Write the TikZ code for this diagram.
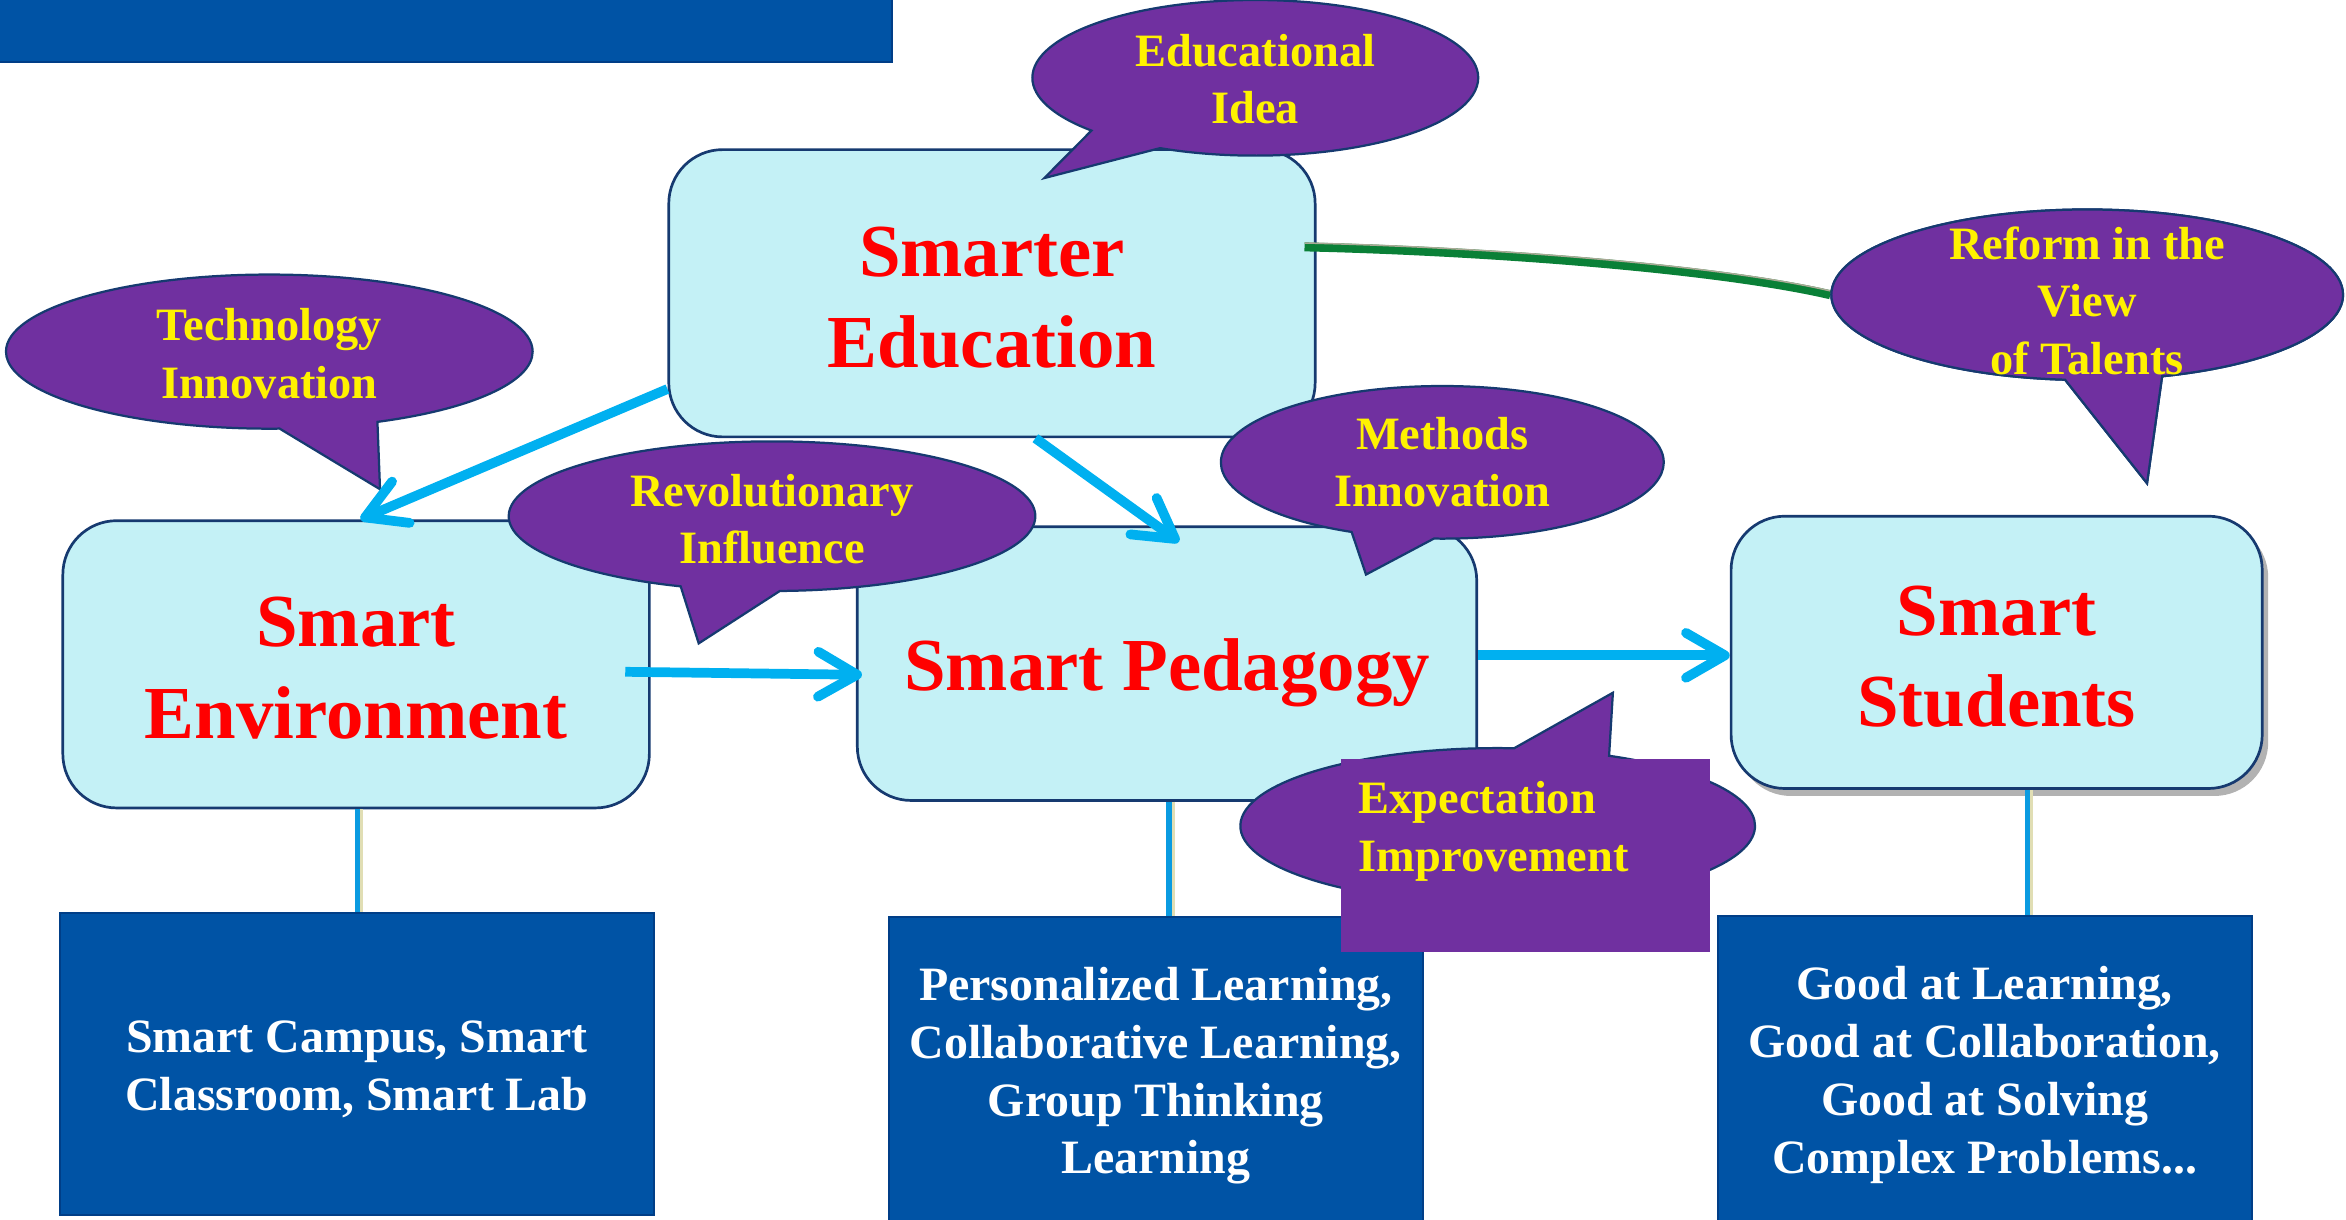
\documentclass[tikz,border=0pt]{standalone}
\usepackage{fontspec}
\setmainfont{Liberation Serif}
\usetikzlibrary{arrows.meta,shapes.callouts,shadows,calc}

\definecolor{cyanfill}{RGB}{196,241,246}
\definecolor{boxline}{RGB}{22,58,112}
\definecolor{purp}{RGB}{112,48,160}
\definecolor{subblue}{RGB}{0,83,165}
\definecolor{subline}{RGB}{0,62,135}
\definecolor{arrowcyan}{RGB}{0,176,240}
\definecolor{pipegreen}{RGB}{10,128,55}
\definecolor{pipegrey}{RGB}{170,170,150}
\definecolor{pipeblue}{RGB}{10,155,225}
\definecolor{pipebeige}{RGB}{225,222,180}

\begin{document}
\begin{tikzpicture}[x=1pt,y=-1pt,
  mainbox/.style={draw=boxline, line width=1.8pt, fill=cyanfill, rounded corners=36pt, inner sep=0pt},
  maintext/.style={align=center, text=red, font=\fontsize{50}{61}\selectfont\bfseries, inner sep=0pt},
  subbox/.style={draw=subline, line width=1.5pt, fill=subblue, inner sep=0pt},
  subtext/.style={align=center, text=white, font=\fontsize{32}{38.7}\selectfont\bfseries, inner sep=0pt},
  bubble/.style={ellipse callout, draw=boxline, line width=1.5pt, fill=purp, inner sep=0pt,
    callout pointer arc=22},
  bubtext/.style={align=center, text=yellow, font=\fontsize{31}{38.5}\selectfont\bfseries, inner sep=0pt},
  flow/.style={draw=arrowcyan, line width=6.5pt, -{Straight Barb[length=26pt,width=30pt,round]}},
  pipeA/.style={draw=pipeblue, line width=3.4pt},
  pipeB/.style={draw=pipebeige, line width=2pt},
]
\useasboundingbox (0,0) rectangle (1568,815);

% title box
\node[subbox, minimum width=603, minimum height=48, anchor=south east] (title) at (597,42) {};

% lower boxes
\node[subbox, minimum width=397, minimum height=202] (envsub) at (238.5,711) {};
\node[subtext] (envsubt) at (238.5,715) {Smart Campus, Smart\\Classroom, Smart Lab};
\node[subbox, minimum width=357, minimum height=204] (pedsub) at (772.5,715) {};
\node[subtext] (pedsubt) at (772.5,719) {Personalized Learning,\\Collaborative Learning,\\Group Thinking\\Learning};
\node[subbox, minimum width=357, minimum height=205] (stusub) at (1326.5,714.5) {};
\node[subtext] (stusubt) at (1326.5,718.5) {Good at Learning,\\Good at Collaboration,\\Good at Solving\\Complex Problems...};

% main boxes
\node[mainbox, minimum width=432, minimum height=192] (se) at (663,196) {};
\node[maintext] (set) at (663,199) {Smarter\\Education};
\node[mainbox, minimum width=392, minimum height=192] (env) at (238,444) {};
\node[maintext] (envt) at (238,446.5) {Smart\\Environment};
\node[mainbox, minimum width=414, minimum height=183] (ped) at (780,443.5) {};
\node[maintext] (pedt) at (780,450) {Smart Pedagogy};
\node[mainbox, minimum width=355, minimum height=182,
  drop shadow={shadow xshift=4pt, shadow yshift=-5pt, fill=black, opacity=0.3}] (stu) at (1334.5,436) {};
\node[maintext] (stut) at (1334.5,439) {Smart\\Students};

\draw[pipeA] (env.south -| 238.8,0) -- (envsub.north -| 238.8,0);
\draw[pipeB] (env.south -| 241.5,0) -- (envsub.north -| 241.5,0);
\draw[pipeA] (ped.south -| 781.3,0) -- (pedsub.north -| 781.3,0);
\draw[pipeB] (ped.south -| 784,0) -- (pedsub.north -| 784,0);
\draw[pipeA] (stu.south -| 1355.3,0) -- (stusub.north -| 1355.3,0);
\draw[pipeB] (stu.south -| 1358,0) -- (stusub.north -| 1358,0);

% green link and the reform bubble
\path (1395,197) node[bubble, minimum width=342, minimum height=114, callout absolute pointer={(1435,323)}] (reform) {};
\draw[pipegreen, line width=6pt] ($(se.east |- 0,165)+(-8,0)$) .. controls (1000,168) and (1150,180) .. (reform.west);
\draw[pipegrey, line width=1pt, transform canvas={yshift=2.6pt}] ($(se.east |- 0,165)+(-8,0)$) .. controls (1000,168) and (1150,180) .. (reform.west);
\node[bubble, minimum width=342, minimum height=114, callout absolute pointer={(1435,323)}] (reformtop) at (reform.center) {};
\node[bubtext] (reformt) at (1395,201) {Reform in the\\View\\of Talents};

\node[bubble, minimum width=298, minimum height=104, callout absolute pointer={(698,119)}] (idea) at (839,52) {};
\node[bubtext] (ideat) at (839,53) {Educational\\Idea};

\node[bubble, minimum width=352, minimum height=103, callout absolute pointer={(254,327)}] (tech) at (180,235) {};
\node[bubtext] (techt) at (180,236.5) {Technology\\Innovation};

\node[bubble, minimum width=352, minimum height=100, callout absolute pointer={(467,430)}] (rev) at (516,345) {};
\node[bubtext] (revt) at (516,347) {Revolutionary\\Influence};

\node[bubble, minimum width=296, minimum height=102, callout absolute pointer={(913,384)}] (meth) at (964,309) {};
\node[bubtext] (metht) at (964,309) {Methods\\Innovation};

\node[bubble, minimum width=344, minimum height=104, callout absolute pointer={(1078,463)}] (expect) at (1001,552) {};
\node[fill=purp, minimum width=247, minimum height=129, inner sep=0pt] (exprect) at (1019.5,571.5) {};
\node[bubtext, align=left, anchor=west] (expectt) at (908,555.5) {Expectation\\Improvement};

% arrows
\draw[flow] (se.west |- 0,260) -- (env.north -| 241,0);
\draw[flow] (se.south -| 692,0) -- ($(ped.north -| 788,0)+(0,11)$);
\draw[flow] ($(env.east |- 0,449)+(-17,0)$) -- ($(ped.west |- 0,451)+(4,0)$);
\draw[flow] (ped.east |- 0,438) -- (stu.west |- 0,438);

\end{tikzpicture}
\end{document}
